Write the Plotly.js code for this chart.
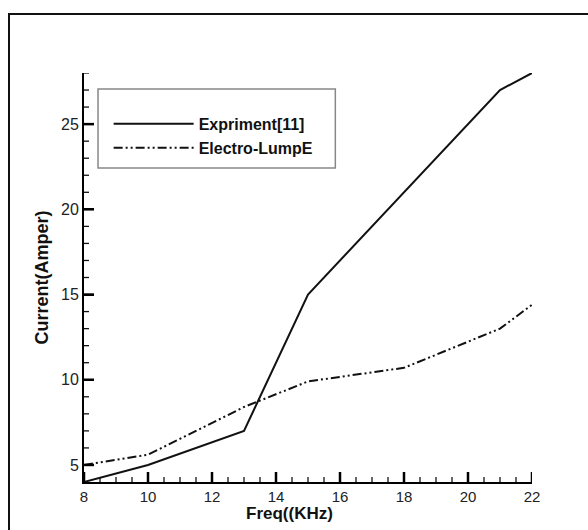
<!DOCTYPE html>
<html>
<head>
<meta charset="utf-8">
<script src="https://cdn.plot.ly/plotly-3.0.1.min.js"></script>
<style>
  html, body { margin: 0; padding: 0; background: #fff; }
  #chart { width: 588px; height: 530px; }
</style>
</head>
<body>
<div id="chart"></div>
<script>
// Data
const freqExp = [8, 10, 13, 15, 21, 22];
const currentExp = [4, 5, 7, 15, 27, 28];

const freqLump = [8, 10, 13, 15, 18, 21, 22];
const currentLump = [5, 5.6, 8.4, 9.9, 10.7, 13, 14.4];

const seriesNames = ['Expriment[11]', 'Electro-LumpE'];
const xTitle = 'Freq((KHz)';
const yTitle = 'Current(Amper)';

// Tick positions (axis values)
const xMajorTicks = [8, 10, 12, 14, 16, 18, 20, 22];
const xMinorTicks = [8.5, 9, 9.5, 10.5, 11, 11.5, 12.5, 13, 13.5, 14.5, 15, 15.5,
                     16.5, 17, 17.5, 18.5, 19, 19.5, 20.5, 21, 21.5];
const yMajorTicks = [5, 10, 15, 20, 25];
const yMinorTicks = [6, 7, 8, 9, 11, 12, 13, 14, 16, 17, 18, 19, 21, 22, 23, 24, 26, 27, 28];

const X_RANGE = [8, 22];
const Y_RANGE = [4, 28];

const FONT = 'Arial, "Liberation Sans", sans-serif';

// inside tick marks, drawn through the axes' own scales
function tickSegments(xVals, yVals, xLen, yLen) {
  const xs = [], ys = [];
  xVals.forEach(v => { xs.push(v, v, null); ys.push(Y_RANGE[0], Y_RANGE[0] + yLen, null); });
  yVals.forEach(v => { xs.push(X_RANGE[0], X_RANGE[0] + xLen, null); ys.push(v, v, null); });
  return { x: xs, y: ys };
}
const PX_X = (X_RANGE[1] - X_RANGE[0]) / 448; // axis units per pixel
const PX_Y = (Y_RANGE[1] - Y_RANGE[0]) / 409;
const majorSeg = tickSegments(xMajorTicks, yMajorTicks, 10 * PX_X, 10 * PX_Y);
const minorSeg = tickSegments(xMinorTicks, yMinorTicks, 5 * PX_X, 5 * PX_Y);

const traces = [
  {
    x: freqExp, y: currentExp, name: seriesNames[0],
    type: 'scatter', mode: 'lines',
    line: { color: '#111', width: 2 }
  },
  {
    x: freqLump, y: currentLump, name: seriesNames[1],
    type: 'scatter', mode: 'lines',
    line: { color: '#111', width: 2, dash: '9px,3px,2px,3px,2px,3px' }
  },
  {
    x: majorSeg.x, y: majorSeg.y, type: 'scatter', mode: 'lines',
    line: { color: '#000', width: 2.5 }, showlegend: false, hoverinfo: 'skip', connectgaps: false
  },
  {
    x: minorSeg.x, y: minorSeg.y, type: 'scatter', mode: 'lines',
    line: { color: '#111', width: 1.3 }, showlegend: false, hoverinfo: 'skip', connectgaps: false
  }
];

const layout = {
  width: 588, height: 530,
  margin: { l: 84, r: 56, t: 73, b: 48 },
  font: { family: FONT, color: '#111' },
  showlegend: true,
  legend: {
    x: 0.055, y: 0.917, xanchor: 'left', yanchor: 'top',
    bgcolor: 'rgba(0,0,0,0)', borderwidth: 0,
    font: { family: FONT, size: 16, color: '#111', weight: 'bold' },
    itemwidth: 80
  },
  xaxis: {
    range: X_RANGE, tickmode: 'array', tickvals: xMajorTicks,
    gridcolor: 'rgba(0,0,0,0)',
    showline: true, linecolor: 'black', linewidth: 2,
    ticks: 'inside', ticklen: 10, tickwidth: 2, tickcolor: 'black',
    tickfont: { family: FONT, size: 15, color: '#222' }
  },
  yaxis: {
    range: Y_RANGE, tickmode: 'array', tickvals: yMajorTicks,
    gridcolor: 'rgba(0,0,0,0)',
    showline: true, linecolor: 'black', linewidth: 2,
    ticks: 'inside', ticklen: 10, tickwidth: 2, tickcolor: 'black',
    tickfont: { family: FONT, size: 16, color: '#222' },
    title: { text: yTitle, font: { family: FONT, size: 18, color: '#111', weight: 'bold' }, standoff: 8 }
  },
  annotations: [
    { text: xTitle, xref: 'paper', yref: 'paper', x: (289 - 84) / 448, y: (482 - 513) / 409,
      xanchor: 'center', yanchor: 'middle', showarrow: false,
      font: { family: FONT, size: 17, color: '#111', weight: 'bold' } }
  ],
  shapes: [
    // outer frame (extends beyond the image on right and bottom)
    { type: 'rect', xref: 'paper', yref: 'paper',
      x0: -0.1674, x1: 1.2, y0: -0.2, y1: 1.144,
      line: { color: '#111', width: 2 } },
    // legend box
    { type: 'rect', xref: 'paper', yref: 'paper',
      x0: 0.0313, x1: 0.561, y0: 0.768, y1: 0.961,
      line: { color: '#888', width: 1.5 } }
  ]
};

Plotly.newPlot('chart', traces, layout, { displayModeBar: false });
</script>
</body>
</html>
